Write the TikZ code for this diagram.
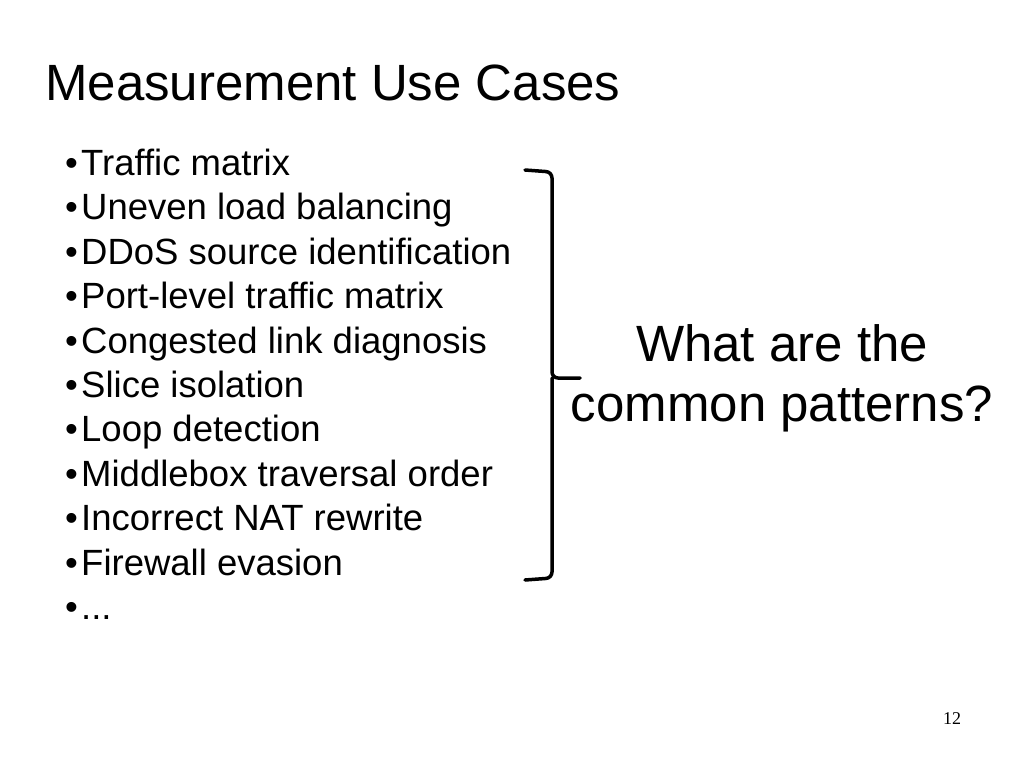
\documentclass[tikz,border=0pt]{standalone}
\usepackage{fontspec}
\setmainfont{Liberation Sans}
\newfontfamily\pagefont{Liberation Serif}
\tikzset{item/.style={anchor=base west, inner sep=0pt, font=\fontsize{36.5}{36.5}\selectfont}}
\begin{document}
\begin{tikzpicture}[x=1pt, y=-1pt, line join=round, line cap=round]
  \useasboundingbox (0,0) rectangle (1024,768);

  % title
  \node[anchor=base west, inner sep=0pt, font=\fontsize{51}{51}\selectfont] (title) at (45,100) {Measurement Use Cases};

  % use cases
  \foreach \txt [count=\i] in {{Traffic matrix}, {Uneven load balancing}, {DDoS source identification},
      {Port-level traffic matrix}, {Congested link diagnosis}, {Slice isolation}, {Loop detection},
      {Middlebox traversal order}, {Incorrect NAT rewrite}, {Firewall evasion}, {{...}}}
  {
    \node[item] (case\i) at (81,{131+44.4*\i}) {\txt};
    \node[item, anchor=base east] (dot\i) at (78,{131+44.4*\i}) {\textbullet};
  }

  % brace
  \coordinate (top) at (525,170);
  \coordinate (bot) at (525,580);
  \coordinate (tip) at (580,378);
  \draw[line width=3.5pt, rounded corners=6pt] (top) -- (552,172) -- (552,378) -- (tip);
  \draw[line width=3.5pt, rounded corners=6pt] (bot) -- (552,578) -- (552,378);

  % question
  \node[font=\fontsize{51}{60}\selectfont, align=center, anchor=center] (question) at (782,378)
    {What are the\\common patterns?};

  \node[anchor=base, font=\pagefont\fontsize{18}{18}\selectfont] (page) at (952,724) {12};
\end{tikzpicture}
\end{document}
